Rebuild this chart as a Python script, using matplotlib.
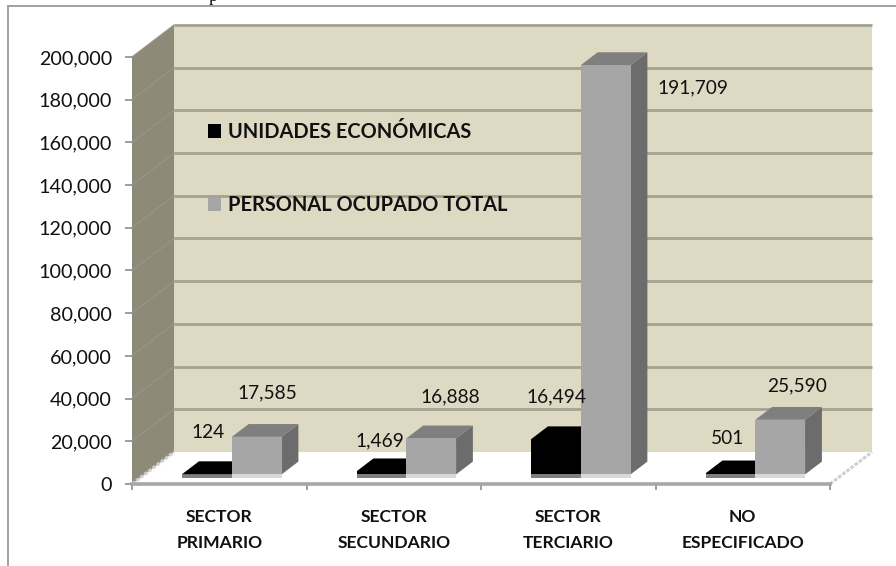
import matplotlib
matplotlib.use("Agg")
import matplotlib.pyplot as plt
from matplotlib.patches import Polygon
from matplotlib.lines import Line2D
from matplotlib.transforms import Affine2D, IdentityTransform
from matplotlib.ticker import FuncFormatter

categories = ["SECTOR\nPRIMARIO", "SECTOR\nSECUNDARIO", "SECTOR\nTERCIARIO", "NO\nESPECIFICADO"]
unidades = [124, 1469, 16494, 501]
personal = [17585, 16888, 191709, 25590]
series_names = ["UNIDADES ECONÓMICAS", "PERSONAL OCUPADO TOTAL"]
yticks = list(range(0, 200001, 20000))

W, H = 896, 566
FONT = "Lato"
DX, DY = 42, 32          # full depth of the 3-D box, px
BAR_D0, BAR_D1 = 0.30, 0.70
BAR_W = 0.285

fig = plt.figure(figsize=(W / 100, H / 100), dpi=100, facecolor="white")
L, R, B, T = 132, 830, 484, 57
ax = fig.add_axes([L / W, 1 - B / H, (R - L) / W, (B - T) / H])
ax.set_xlim(0, 4)
ax.set_ylim(0, 200000)
ax.patch.set_visible(False)
for s in ("top", "right", "left"):
    ax.spines[s].set_visible(False)
ax.spines["bottom"].set_color("#a6a6a6")
ax.spines["bottom"].set_linewidth(2.6)
ax.spines["bottom"].set_zorder(6)

ident = IdentityTransform()


def P(x, y, d=0.0):
    px, py = ax.transData.transform((x, y))
    return (px + DX * d, py + DY * d)


def depth(d):
    return ax.transData + Affine2D().translate(DX * d, DY * d)


def poly(pts, color, z, **kw):
    fig_patch = Polygon(pts, closed=True, facecolor=color, edgecolor="none",
                        transform=ident, clip_on=False, zorder=z, **kw)
    ax.add_patch(fig_patch)


# frame of the pasted chart
fig.add_artist(Line2D([8 / W, 8 / W], [0, 1 - 6 / H], color="#a0a0a0", lw=1.4))
fig.add_artist(Line2D([8 / W, 1], [1 - 6 / H, 1 - 6 / H], color="#a0a0a0", lw=1.4))
fig.text(213 / W, 1 - 1 / H, "p", family="Liberation Serif", fontsize=13,
         ha="center", va="baseline", color="#111111")

# walls and floor
poly([P(0, 0), P(4, 0), P(4, 0, 1), P(0, 0, 1)], "white", 1)
poly([P(0, 0, 1), P(4, 0, 1), P(4, 200000, 1), P(0, 200000, 1)], "#ddd9c3", 1)
poly([P(0, 0), P(0, 0, 1), P(0, 200000, 1), P(0, 200000)], "#8e8a78", 1.5)

for v in yticks:
    if v > 0:
        ax.plot([0, 4], [v, v], transform=depth(1), color="#a3a291", lw=2.0,
                clip_on=False, zorder=2, solid_capstyle="butt")
        a, b = P(0, v), P(0, v, 1)
        ax.plot([a[0], b[0]], [a[1], b[1]], transform=ident, color="#98948a",
                lw=0.9, clip_on=False, zorder=2)
# floor edges
for x in (0, 4):
    a, b = P(x, 0), P(x, 0, 1)
    ax.plot([a[0], b[0]], [a[1], b[1]], transform=ident, color="#cfcfcf", lw=2.2,
            ls=(0, (1.2, 0.5)), clip_on=False, zorder=2)

# bars: one depth-shifted axes bar for the front, polygons for top and side
xpos = [i + 0.5 for i in range(4)]
x_u = [x - BAR_W / 2 for x in xpos]
x_p = [x + BAR_W / 2 for x in xpos]
front_tr = depth(BAR_D0)


def bar3d(xs, vals, front, top, side, strip, z):
    for x, v in zip(xs, vals):
        x0, x1 = x - BAR_W / 2, x + BAR_W / 2
        # reflection strip on the floor
        a, b = P(x0, 0, BAR_D0), P(x1, 0, BAR_D0)
        poly([(a[0], a[1]), (b[0], b[1]), (b[0], b[1] - 4), (a[0], a[1] - 4)], strip, z)
        poly([P(x1, 0, BAR_D0), P(x1, 0, BAR_D1), P(x1, v, BAR_D1), P(x1, v, BAR_D0)], side, z)
        poly([P(x0, v, BAR_D0), P(x1, v, BAR_D0), P(x1, v, BAR_D1), P(x0, v, BAR_D1)], top, z)
    return ax.bar(xs, vals, width=BAR_W, color=front, transform=front_tr,
                  clip_on=False, zorder=z + 0.1)


b1 = bar3d(x_u, unidades, "#000000", "#000000", "#000000", "#7f7f7f", 3)
b2 = bar3d(x_p, personal, "#a6a6a6", "#7f7f7f", "#6c6c6c", "#d9d9d9", 4)

# data labels (pixel anchors in the picture)
lab_fmt = "{:,}".format
lab_u = [(208, 433), (380, 441), (556, 397), (728, 438)]
lab_p = [(267, 393), (450, 397), (693, 88), (797, 386)]
for vals, anchors in ((unidades, lab_u), (personal, lab_p)):
    for v, (x, y) in zip(vals, anchors):
        fig.text(x / W, 1 - y / H, lab_fmt(v), family=FONT, fontsize=13.8,
                 ha="center", va="center", color="#111111", zorder=10)

# axes
ax.set_yticks(yticks)
ax.yaxis.set_major_formatter(FuncFormatter(lambda v, _: f"{int(v):,}"))
ax.tick_params(axis="y", length=5, width=1.2, color="#8c8c8c", pad=9.4,
               labelsize=14.2, labelcolor="#111111")
ax.set_xticks([0, 1, 2, 3, 4])
ax.set_xticklabels([])
ax.tick_params(axis="x", which="major", length=4, width=1.2, color="#8c8c8c")
ax.set_xticks(xpos, minor=True)
ax.set_xticklabels(categories, minor=True, fontweight="bold", fontsize=12.6,
                   linespacing=1.75, color="#111111")
ax.tick_params(axis="x", which="minor", length=0, pad=18)
for t in ax.get_yticklabels() + ax.get_xticklabels(minor=True):
    t.set_family(FONT)

# legend
leg = ax.legend([b1, b2], series_names, loc="upper left",
                bbox_to_anchor=((208 - L) / (R - L), 1 - (122 - T) / (B - T)),
                frameon=False, borderpad=0, borderaxespad=0, handlelength=0.65,
                handleheight=0.65, handletextpad=0.35, labelspacing=2.67,
                prop={"family": FONT, "weight": "bold", "size": 14.4})
leg.set_zorder(9)
for t in leg.get_texts():
    t.set_color("#111111")

fig.savefig("out.png", dpi=100, facecolor="white")
